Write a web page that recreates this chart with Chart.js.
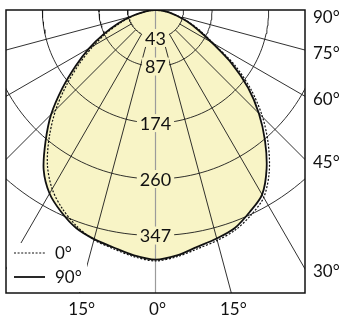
<!DOCTYPE html>
<html>
<head>
<meta charset="utf-8">
<script src="https://cdn.jsdelivr.net/npm/chart.js@4/dist/chart.umd.min.js"></script>
<style>
  html, body { margin: 0; padding: 0; background: #ffffff; }
  #wrap { width: 340px; height: 322px; }
</style>
</head>
<body>
<div id="wrap"><canvas id="c" width="340" height="322"></canvas></div>
<script>
// Gamma angles (degrees from nadir, negative = left half)
const ANGLES = [-90, -85, -80, -75, -70, -65, -60, -55, -50, -45, -40, -35, -30, -25, -20, -15, -10, -5,
                0, 5, 10, 15, 20, 25, 30, 35, 40, 45, 50, 55, 60, 65, 70, 75, 80, 85, 90];

// Luminous intensity (cd) in the C90 plane (solid curve)
const C90_VALUES = [0, 7, 19, 40, 62, 88, 118, 150, 187, 227, 263, 300, 326, 343, 357, 365, 371, 379,
                    384, 379, 370, 364, 357, 343, 328, 298, 262, 225, 186, 143, 100, 72, 52, 34, 21, 8, 0];

// Luminous intensity (cd) in the C0 plane (dotted curve)
const C0_VALUES = [0, 7, 18, 37, 57, 82, 110, 142, 178, 217, 254, 290, 318, 338, 354, 366, 373, 381,
                   386, 381, 373, 367, 360, 348, 333, 305, 270, 233, 193, 150, 103, 76, 54, 36, 21, 8, 0];

const SERIES_LABELS = ['0°', '90°'];

// Intensity rings and their labels
const RING_VALUES = [43, 87, 174, 260, 347];

// Radial grid directions
const RADIAL_ANGLES = [-75, -60, -45, -30, -15, 15, 30, 45, 60, 75];

// Angle labels along the right edge and the bottom edge
const SIDE_TICK_ANGLES = [90, 75, 60, 45, 30];
const SIDE_TICK_LABELS = ['90°', '75°', '60°', '45°', '30°'];
const BOTTOM_TICK_ANGLES = [-15, 0, 15];
const BOTTOM_TICK_LABELS = ['15°', '0°', '15°'];

// Visible window in candela units (equal scale on both axes)
const X_LIMIT = 230;
const Y_LIMIT = 435.4;

const FILL_COLOR = '#f8f4c6';
const FONT = 'Lato, "DejaVu Sans", sans-serif';

const rad = d => d * Math.PI / 180;
const polar = (deg, r) => ({ x: r * Math.sin(rad(deg)), y: -r * Math.cos(rad(deg)) });

const c90Points = ANGLES.map((a, i) => polar(a, C90_VALUES[i]));
const c0Points = ANGLES.map((a, i) => polar(a, C0_VALUES[i]));

// grid geometry
const ringDatasets = RING_VALUES.map(v => {
  const pts = [];
  for (let a = -90; a <= 90; a += 2) pts.push(polar(a, v));
  return {
    data: pts, showLine: true, borderColor: '#1a1a1a', borderWidth: 0.9,
    pointRadius: 0, fill: false, order: 3
  };
});
const radialDatasets = RADIAL_ANGLES.map(a => ({
  data: [polar(a, RING_VALUES[0]), polar(a, 2000)],
  showLine: true, borderColor: '#1a1a1a', borderWidth: 0.9, pointRadius: 0, fill: false, order: 3
}));

const datasets = [
  {
    label: SERIES_LABELS[0], data: c0Points, showLine: true, borderColor: '#111',
    borderWidth: 1.2, borderDash: [2, 1.6], pointRadius: 0, fill: false, order: 0, tension: 0.3
  },
  {
    label: SERIES_LABELS[1], data: c90Points, showLine: true, borderColor: '#111',
    borderWidth: 1.8, pointRadius: 0, fill: false, order: 0, tension: 0.3
  },
  {
    data: [{ x: 0, y: 0 }, { x: 0, y: -Y_LIMIT }], showLine: true, borderColor: '#9b9b9b',
    borderWidth: 1.2, pointRadius: 0, fill: false, order: 1
  },
  ...ringDatasets,
  ...radialDatasets,
  {
    data: c90Points, showLine: true, borderWidth: 0, borderColor: 'rgba(0,0,0,0)',
    backgroundColor: FILL_COLOR, fill: 'shape', pointRadius: 0, order: 9, tension: 0.3
  }
];

const labelsPlugin = {
  id: 'polarLabels',
  afterDatasetsDraw(chart) {
    const { ctx, chartArea, scales } = chart;
    const xs = scales.x, ys = scales.y;
    ctx.save();

    // ring value labels on the vertical axis
    ctx.font = '18px ' + FONT;
    ctx.textAlign = 'center';
    ctx.textBaseline = 'middle';
    RING_VALUES.forEach(v => {
      const px = xs.getPixelForValue(0);
      const py = ys.getPixelForValue(-v);
      const w = ctx.measureText(String(v)).width + 6;
      ctx.fillStyle = FILL_COLOR;
      ctx.fillRect(px - w / 2, py - 9, w, 18);
      ctx.fillStyle = '#111';
      ctx.fillText(String(v), px, py + 1);
    });

    // legend box in the lower left corner
    const lx = chartArea.left, by = chartArea.bottom;
    ctx.fillStyle = '#ffffff';
    ctx.fillRect(lx + 1, by - 50, 80, 49);
    const rows = [{ ds: chart.data.datasets[0], y: by - 40 }, { ds: chart.data.datasets[1], y: by - 16 }];
    ctx.font = '17px ' + FONT;
    ctx.textAlign = 'left';
    rows.forEach(r => {
      ctx.beginPath();
      ctx.strokeStyle = r.ds.borderColor;
      ctx.lineWidth = r.ds.borderWidth;
      ctx.setLineDash(r.ds.borderDash || []);
      ctx.moveTo(lx + 8, r.y);
      ctx.lineTo(lx + 39, r.y);
      ctx.stroke();
      ctx.setLineDash([]);
      ctx.fillStyle = '#111';
      ctx.fillText(r.ds.label, lx + 49, r.y + 1);
    });

    ctx.restore();
  },
  afterDraw(chart) {
    const { ctx, chartArea, scales } = chart;
    const xs = scales.x, ys = scales.y;
    ctx.save();
    // frame
    ctx.strokeStyle = '#111';
    ctx.lineWidth = 1.5;
    ctx.strokeRect(chartArea.left, chartArea.top, chartArea.right - chartArea.left, chartArea.bottom - chartArea.top);

    ctx.font = '17px ' + FONT;
    ctx.fillStyle = '#111';
    ctx.textBaseline = 'middle';
    ctx.textAlign = 'left';
    SIDE_TICK_ANGLES.forEach((a, i) => {
      const yv = a === 90 ? 0 : -X_LIMIT / Math.tan(rad(a));
      let py = ys.getPixelForValue(yv);
      py = Math.max(py, chartArea.top + 5) + 3;
      ctx.fillText(SIDE_TICK_LABELS[i], chartArea.right + 8, py);
    });
    ctx.textAlign = 'center';
    BOTTOM_TICK_ANGLES.forEach((a, i) => {
      const px = xs.getPixelForValue(Y_LIMIT * Math.tan(rad(a)));
      ctx.fillText(BOTTOM_TICK_LABELS[i], px + 2, chartArea.bottom + 17);
    });
    ctx.restore();
  }
};

new Chart(document.getElementById('c'), {
  type: 'scatter',
  data: { datasets },
  options: {
    responsive: false,
    devicePixelRatio: 1,
    animation: false,
    layout: { padding: { left: 6, top: 10, right: 35, bottom: 29 } },
    scales: {
      x: { type: 'linear', min: -X_LIMIT, max: X_LIMIT, display: false },
      y: { type: 'linear', min: -Y_LIMIT, max: 0, display: false }
    },
    plugins: { legend: { display: false }, tooltip: { enabled: false } }
  },
  plugins: [labelsPlugin]
});
</script>
</body>
</html>
